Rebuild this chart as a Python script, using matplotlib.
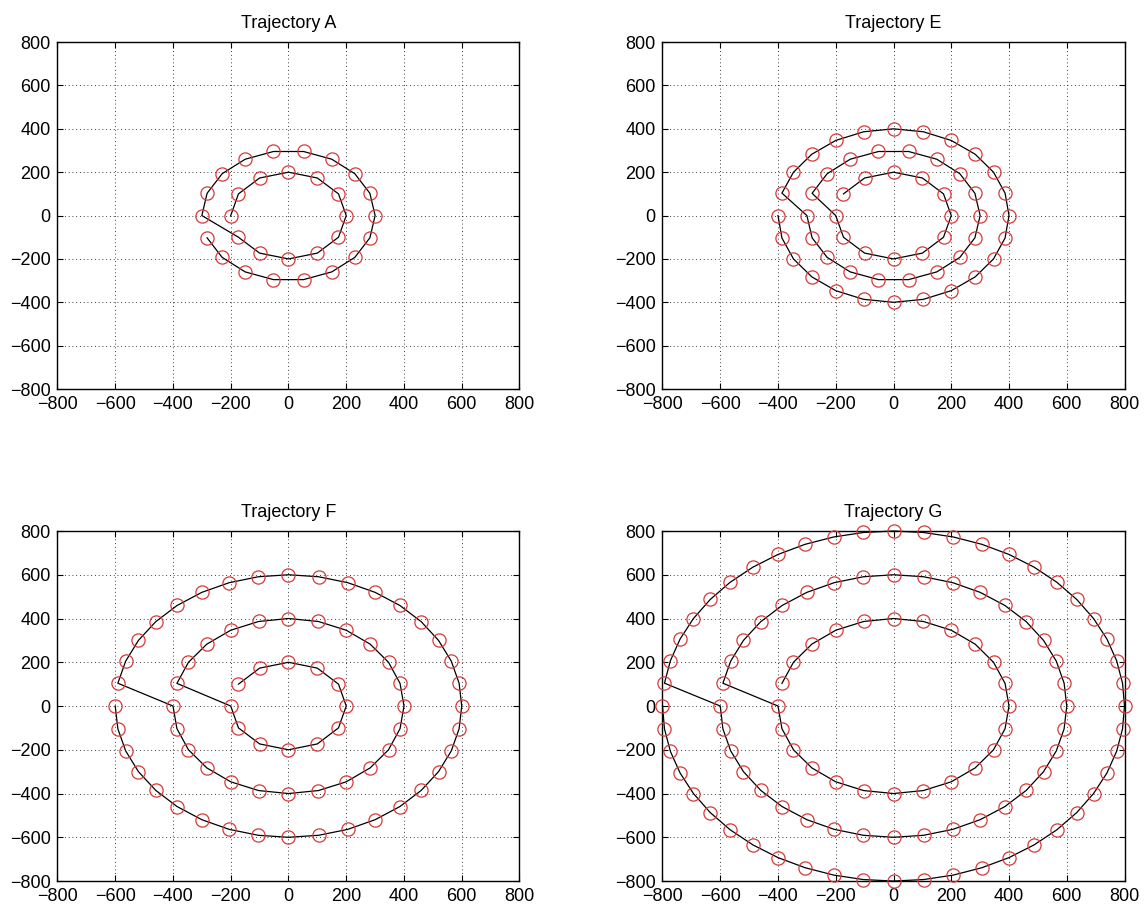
import numpy as np
import matplotlib
matplotlib.use("Agg")
import matplotlib.pyplot as plt

plt.rcParams["font.family"] = ["Liberation Sans", "DejaVu Sans"]

# panel titles, in drawing order (top-left, top-right, bottom-left, bottom-right)
TITLES = ["Trajectory A", "Trajectory E", "Trajectory F", "Trajectory G"]

# each trajectory is a chain of rings, outer ring first;
# ring = radius, number of samples around it, angle of first sample (deg)
RING_RADII = [
    [300, 200],
    [400, 300, 200],
    [600, 400, 200],
    [800, 600, 400],
]
RING_SAMPLES = [
    [18, 12],
    [24, 18, 12],
    [36, 24, 12],
    [48, 36, 24],
]
RING_START_DEG = [
    [200, 210],
    [180, 180, 180],
    [180, 180, 180],
    [180, 180, 180],
]

AX_LIM = 800
TICKS = [-800, -600, -400, -200, 0, 200, 400, 600, 800]

# axes rectangles in figure fractions (left, bottom, width, height)
POSITIONS = [
    [0.0502, 0.5739, 0.4035, 0.3800],
    [0.5786, 0.5739, 0.4035, 0.3800],
    [0.0502, 0.0350, 0.4035, 0.3834],
    [0.5786, 0.0350, 0.4035, 0.3834],
]


def trajectory_points(radii, samples, starts):
    xs, ys = [], []
    for r, n, a0 in zip(radii, samples, starts):
        theta = np.deg2rad(a0 + np.arange(n) * 360.0 / n)
        xs.append(r * np.cos(theta))
        ys.append(r * np.sin(theta))
    return np.concatenate(xs), np.concatenate(ys)


fig = plt.figure(figsize=(11.45, 9.13), dpi=100)

for i, title in enumerate(TITLES):
    ax = fig.add_axes(POSITIONS[i])
    x, y = trajectory_points(RING_RADII[i], RING_SAMPLES[i], RING_START_DEG[i])

    ax.plot(x, y, color="black", lw=0.9, zorder=3, clip_on=False)
    ax.plot(x, y, ls="none", marker="o", ms=9.5, mfc="none",
            mec=(0.85, 0.22, 0.22), mew=0.9, zorder=4, clip_on=False)

    ax.set_xlim(-AX_LIM, AX_LIM)
    ax.set_ylim(-AX_LIM, AX_LIM)
    ax.set_xticks(TICKS)
    ax.set_yticks(TICKS)
    ax.grid(True, color="black", ls=(0, (1, 3.5)), lw=0.6)
    ax.tick_params(direction="in", top=True, right=True, length=4,
                   width=0.8, labelsize=13, pad=5)
    for s in ax.spines.values():
        s.set_linewidth(1.0)
    ax.set_title(title, fontsize=13, pad=10)

fig.savefig("out.png", dpi=100)
